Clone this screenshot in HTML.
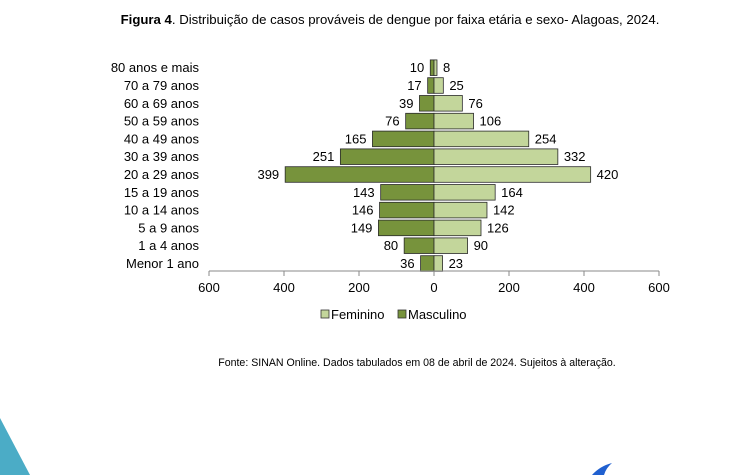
<!DOCTYPE html><html><head><style>body{margin:0;background:#fff}svg{display:block}text{font-family:"Liberation Sans",Arial,sans-serif}</style></head><body>
<svg width="754" height="475" xmlns="http://www.w3.org/2000/svg">
<text x="390" y="24" font-size="13.2" text-anchor="middle" fill="#000"><tspan font-weight="bold">Figura 4</tspan>. Distribuição de casos prováveis de dengue por faixa etária e sexo- Alagoas, 2024.</text>
<g id="bars"></g>
<line x1="209" y1="271" x2="659" y2="271" stroke="#888" stroke-width="1"/>
<g stroke="#888"><line x1="209" y1="271" x2="209" y2="276"/><line x1="284" y1="271" x2="284" y2="276"/><line x1="359" y1="271" x2="359" y2="276"/><line x1="434" y1="271" x2="434" y2="276"/><line x1="509" y1="271" x2="509" y2="276"/><line x1="584" y1="271" x2="584" y2="276"/><line x1="659" y1="271" x2="659" y2="276"/></g>
<g font-size="13" text-anchor="middle"><text x="209" y="292">600</text><text x="284" y="292">400</text><text x="359" y="292">200</text><text x="434" y="292">0</text><text x="509" y="292">200</text><text x="584" y="292">400</text><text x="659" y="292">600</text></g>
<rect x="321" y="310" width="8" height="8" fill="#c3d69b" stroke="#333" stroke-width="0.8"/><text x="331" y="319" font-size="13">Feminino</text>
<rect x="398" y="310" width="8" height="8" fill="#77933c" stroke="#333" stroke-width="0.8"/><text x="408" y="319" font-size="13">Masculino</text>
<text x="417" y="366" font-size="10.6" text-anchor="middle">Fonte: SINAN Online. Dados tabulados em 08 de abril de 2024. Sujeitos à alteração.</text>
<polygon points="0,418 30,475 0,475" fill="#4bacc6"/>
<path d="M592,475 Q600,466 612,463 Q606,468 604,475Z" fill="#2060d0"/>
</svg>
<script>
var labs=["80 anos e mais","70 a 79 anos","60 a 69 anos","50 a 59 anos","40 a 49 anos","30 a 39 anos","20 a 29 anos","15 a 19 anos","10 a 14 anos","5 a 9 anos","1 a 4 anos","Menor 1 ano"];
var m=[10,17,39,76,165,251,399,143,146,149,80,36],f=[8,25,76,106,254,332,420,164,142,126,90,23];
var s="",k=0.373;
for(var i=0;i<12;i++){var c=67.7+i*17.8,y=c-7.8,h=15.6;
var wm=m[i]*k,wf=f[i]*k;
s+='<rect x="'+(434-wm)+'" y="'+y+'" width="'+wm+'" height="'+h+'" fill="#77933c" stroke="#2a2a2a" stroke-width="0.8"/>';
s+='<rect x="434" y="'+y+'" width="'+wf+'" height="'+h+'" fill="#c3d69b" stroke="#2a2a2a" stroke-width="0.8"/>';
s+='<text x="'+(434-wm-6)+'" y="'+(c+4.5)+'" font-size="13" text-anchor="end">'+m[i]+'</text>';
s+='<text x="'+(434+wf+6)+'" y="'+(c+4.5)+'" font-size="13">'+f[i]+'</text>';
s+='<text x="199" y="'+(c+4.5)+'" font-size="13" text-anchor="end">'+labs[i]+'</text>';}
document.getElementById("bars").innerHTML=s;
</script>
</body></html>
